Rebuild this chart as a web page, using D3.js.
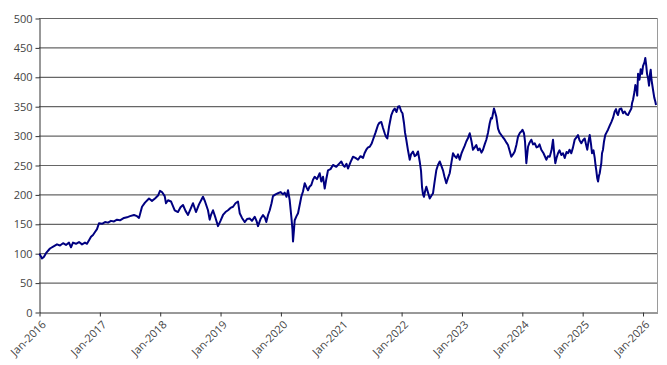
<!DOCTYPE html>
<html>
<head>
<meta charset="utf-8">
<script src="https://cdn.jsdelivr.net/npm/d3@7"></script>
<style>
  body { margin: 0; background: #fff; }
  svg { display: block; }
  .tick text { font-family: "Open Sans", "DejaVu Sans", sans-serif; font-size: 11px; fill: #444; }
</style>
</head>
<body>
<div id="chart"></div>
<script>
// decimal years for each point
const years = [
  2016.008, 2016.050, 2016.083, 2016.116, 2016.182, 2016.249, 2016.298, 2016.348, 2016.398, 2016.447,
  2016.497, 2016.530, 2016.563, 2016.613, 2016.663, 2016.713, 2016.762, 2016.795, 2016.829, 2016.862,
  2016.895, 2016.928, 2016.961, 2016.994, 2017.044, 2017.094, 2017.143, 2017.193, 2017.243, 2017.292,
  2017.342, 2017.408, 2017.458, 2017.508, 2017.574, 2017.624, 2017.657, 2017.707, 2017.756, 2017.823,
  2017.872, 2017.922, 2017.972, 2018.005,
  2018.038, 2018.083, 2018.104, 2018.138, 2018.187, 2018.249, 2018.303, 2018.345, 2018.386, 2018.428,
  2018.469, 2018.510, 2018.552, 2018.601, 2018.651, 2018.717, 2018.751, 2018.800, 2018.828, 2018.850,
  2018.883, 2018.925, 2018.966, 2019.007, 2019.049, 2019.090, 2019.132, 2019.173, 2019.215, 2019.256,
  2019.297, 2019.326, 2019.364, 2019.408, 2019.447, 2019.491, 2019.529, 2019.574, 2019.604, 2019.629,
  2019.670, 2019.712, 2019.745, 2019.766, 2019.795, 2019.823, 2019.853, 2019.877, 2019.919, 2019.960,
  2020.002, 2020.043,
  2020.071, 2020.101, 2020.126, 2020.154, 2020.181, 2020.200, 2020.209, 2020.225, 2020.237, 2020.267,
  2020.292, 2020.325, 2020.346, 2020.374, 2020.403, 2020.432, 2020.457, 2020.482, 2020.512, 2020.540,
  2020.568, 2020.606, 2020.651, 2020.678, 2020.706, 2020.734, 2020.764, 2020.789, 2020.830, 2020.872,
  2020.926, 2020.971, 2021.009, 2021.037, 2021.065, 2021.095, 2021.120, 2021.162, 2021.203, 2021.244,
  2021.286, 2021.327, 2021.369, 2021.394, 2021.423, 2021.452, 2021.480, 2021.510, 2021.534, 2021.576,
  2021.617, 2021.642, 2021.672, 2021.700, 2021.728, 2021.750, 2021.771, 2021.800, 2021.838, 2021.866,
  2021.894, 2021.924, 2021.949, 2021.973, 2022.003,
  2022.023, 2022.048, 2022.065, 2022.086, 2022.114, 2022.143, 2022.164, 2022.197, 2022.225, 2022.252,
  2022.280, 2022.308, 2022.330, 2022.346, 2022.363, 2022.379, 2022.396, 2022.418, 2022.446, 2022.474,
  2022.504, 2022.529, 2022.553, 2022.583, 2022.611, 2022.640, 2022.669, 2022.694, 2022.719, 2022.749,
  2022.777, 2022.805, 2022.835, 2022.860, 2022.888, 2022.915, 2022.943, 2022.971, 2023.001, 2023.026,
  2023.051, 2023.080, 2023.109, 2023.137, 2023.167, 2023.191, 2023.220, 2023.246, 2023.274, 2023.302,
  2023.332, 2023.357, 2023.385, 2023.412, 2023.440, 2023.468, 2023.490, 2023.506, 2023.523, 2023.539,
  2023.556, 2023.578, 2023.606, 2023.631, 2023.660, 2023.688, 2023.717, 2023.746, 2023.771, 2023.796,
  2023.826, 2023.854, 2023.882, 2023.912, 2023.937, 2023.970, 2023.992,
  2024.011, 2024.036, 2024.053, 2024.075, 2024.103, 2024.128, 2024.157, 2024.186, 2024.214, 2024.244,
  2024.268, 2024.293, 2024.323, 2024.360, 2024.406, 2024.434, 2024.462, 2024.492, 2024.517, 2024.537,
  2024.555, 2024.575, 2024.600, 2024.625, 2024.654, 2024.683, 2024.711, 2024.741, 2024.766, 2024.791,
  2024.820, 2024.848, 2024.876, 2024.906, 2024.931, 2024.956, 2024.986, 2025.014, 2025.042, 2025.064,
  2025.085, 2025.105, 2025.125, 2025.147, 2025.163, 2025.188, 2025.208, 2025.221, 2025.234, 2025.249,
  2025.263, 2025.279, 2025.291, 2025.304, 2025.317, 2025.329, 2025.345, 2025.362, 2025.383, 2025.403,
  2025.428, 2025.453, 2025.483, 2025.511, 2025.539, 2025.561, 2025.577, 2025.594, 2025.619, 2025.649,
  2025.677, 2025.705, 2025.735, 2025.760, 2025.785, 2025.815, 2025.826, 2025.843, 2025.868, 2025.881,
  2025.901, 2025.912, 2025.926, 2025.950, 2025.970, 2025.992, 2026.008, 2026.033, 2026.046, 2026.061,
  2026.075, 2026.091, 2026.108, 2026.124, 2026.136, 2026.149, 2026.174, 2026.194, 2026.212, 2026.224
];

const values = [
  99, 91, 94, 100, 108, 112, 115, 113, 117, 114,
  118, 110, 118, 116, 119, 115, 118, 116, 122, 128,
  131, 136, 141, 151, 150, 153, 152, 155, 154, 157,
  156, 160, 161, 163, 165, 163, 160, 179, 186, 193,
  189, 193, 198, 206,
  204, 197, 185, 190, 188, 173, 170, 178, 182, 172,
  165, 175, 185, 170, 183, 196, 188, 173, 157, 165,
  173, 160, 146, 155, 165, 170, 173, 177, 179, 185,
  188, 168, 160, 153, 158, 159, 155, 162, 155, 146,
  158, 165, 160, 153, 165, 173, 185, 197, 200, 202,
  204, 200,
  203, 196, 207, 190, 162, 140, 120, 140, 156, 163,
  168, 185, 196, 205, 219, 212, 207, 213, 216, 225,
  230, 226, 236, 222, 230, 210, 228, 241, 243, 250,
  247, 252, 256, 250, 247, 252, 244, 255, 264, 262,
  259, 265, 262, 270, 276, 280, 281, 286, 293, 305,
  318, 322, 323, 313, 304, 298, 295, 315, 335, 342,
  346, 340, 349, 350, 341,
  338, 321, 305, 293, 275, 259, 268, 273, 265, 267,
  273, 256, 240, 213, 200, 196, 205, 213, 203, 193,
  198, 202, 220, 241, 250, 256, 248, 241, 230, 219,
  228, 236, 255, 270, 265, 262, 268, 259, 270, 276,
  282, 290, 296, 304, 290, 276, 280, 284, 275, 278,
  271, 276, 285, 293, 305, 321, 330, 329, 338, 346,
  340, 332, 312, 305, 301, 297, 293, 288, 284, 275,
  264, 268, 273, 285, 298, 305, 307,
  310, 304, 290, 253, 281, 288, 293, 285, 287, 280,
  281, 285, 276, 270, 259, 265, 264, 275, 293, 270,
  253, 262, 270, 275, 267, 270, 262, 272, 270, 276,
  270, 280, 293, 297, 301, 292, 287, 292, 295, 285,
  276, 290, 301, 285, 270, 275, 262, 250, 241, 228,
  222, 232, 236, 245, 253, 270, 276, 290, 301, 305,
  310, 316, 323, 330, 341, 345, 338, 335, 345, 346,
  338, 341, 336, 335, 340, 346, 355, 361, 375, 386,
  380, 368, 405, 395, 413, 405, 418, 425, 432, 420,
  405, 398, 385, 405, 412, 395, 378, 365, 358, 352
];

const yTicks = [0, 50, 100, 150, 200, 250, 300, 350, 400, 450, 500];
const xTickYears = [2016, 2017, 2018, 2019, 2020, 2021, 2022, 2023, 2024, 2025, 2026];

const width = 667, height = 365;
const margin = { top: 18, right: 10, bottom: 53, left: 39 };

const svg = d3.select("#chart").append("svg")
    .attr("width", width)
    .attr("height", height);

const x = d3.scaleLinear()
    .domain([2016, 2026.24])
    .range([margin.left, width - margin.right]);

const y = d3.scaleLinear()
    .domain([0, 500])
    .range([height - margin.bottom, margin.top]);

// gridlines
svg.append("g")
    .selectAll("line")
    .data(yTicks.filter(d => d > 0))
    .join("line")
    .attr("x1", margin.left)
    .attr("x2", width - margin.right)
    .attr("y1", d => y(d) + 0.5)
    .attr("y2", d => y(d) + 0.5)
    .attr("stroke", "#666")
    .attr("stroke-width", 1.2);

// right border
svg.append("line")
    .attr("x1", width - margin.right + 0.5)
    .attr("x2", width - margin.right + 0.5)
    .attr("y1", margin.top)
    .attr("y2", height - margin.bottom)
    .attr("stroke", "#9a9a9a");

// y axis
const yAxis = svg.append("g")
    .attr("transform", `translate(${margin.left + 0.5},0.5)`)
    .call(d3.axisLeft(y).tickValues(yTicks).tickSize(4).tickSizeOuter(0));
yAxis.select(".domain").attr("stroke", "#333");
yAxis.selectAll(".tick line").attr("stroke", "#333");
yAxis.selectAll(".tick text").attr("x", -7);

// x axis
const xAxis = svg.append("g")
    .attr("transform", `translate(0.5,${height - margin.bottom + 0.5})`)
    .call(d3.axisBottom(x).tickValues(xTickYears).tickSize(4).tickSizeOuter(0)
        .tickFormat(d => `Jan-${d}`));
xAxis.select(".domain").attr("stroke", "#333");
xAxis.selectAll(".tick line").attr("stroke", "#333");
xAxis.selectAll(".tick text")
    .attr("text-anchor", "end")
    .attr("dy", "0.35em")
    .attr("transform", "translate(4,10) rotate(-45)")
    .attr("y", 0)
    .attr("x", 0);

// the line
const line = d3.line()
    .x((d, i) => x(years[i]))
    .y(d => y(d));

svg.append("path")
    .datum(values)
    .attr("fill", "none")
    .attr("stroke", "#000080")
    .attr("stroke-width", 2)
    .attr("stroke-linejoin", "round")
    .attr("d", line);
</script>
</body>
</html>
